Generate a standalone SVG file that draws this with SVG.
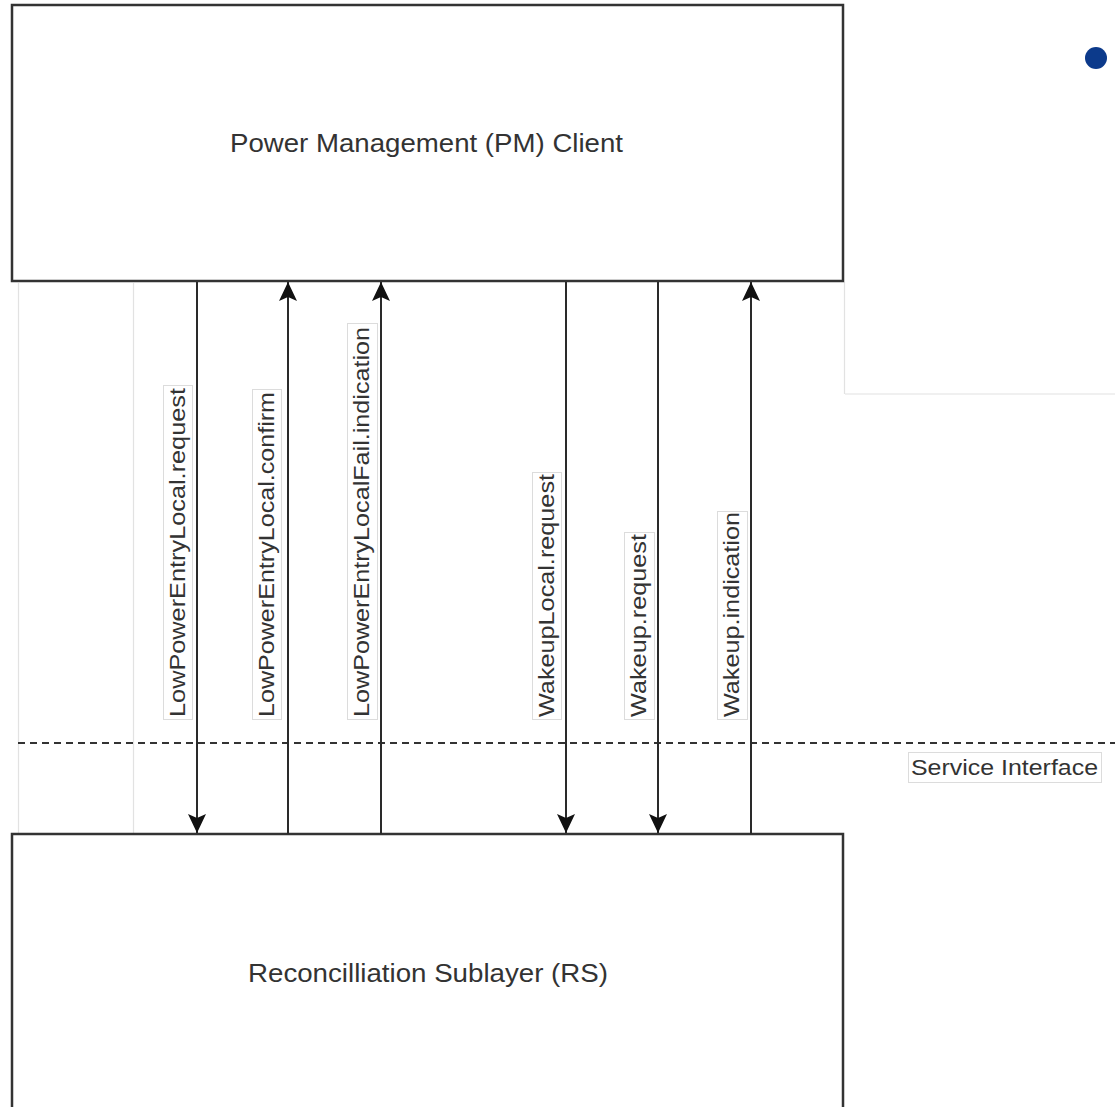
<svg xmlns="http://www.w3.org/2000/svg" width="1115" height="1107" viewBox="0 0 1115 1107">
<style>
.box{fill:#fff;stroke:#333;stroke-width:2.5}
.faint{stroke:#e2e2e2;stroke-width:1.2;fill:none}
.conn{stroke:#2a2a2a;stroke-width:2;fill:none}
.dash{stroke:#333;stroke-width:2;stroke-dasharray:7 5;fill:none}
.lbl{fill:#fff;stroke:#dcdcdc;stroke-width:1}
.t{font-family:"Liberation Sans",Arial,sans-serif;fill:#333}
.big{font-size:26.5px}
.small{font-size:22.5px}
</style>
<defs>
<marker id="ah" viewBox="0 0 20 20" refX="19" refY="10" markerWidth="20" markerHeight="20" markerUnits="userSpaceOnUse" orient="auto">
<path d="M19,10 L0,1 L4,10 L0,19 Z" fill="#111"/>
</marker>
</defs>
<rect width="1115" height="1107" fill="#fff"/>
<g id="background-lines">
<line class="faint" x1="18.5" y1="283" x2="18.5" y2="833"/>
<line class="faint" x1="133.5" y1="283" x2="133.5" y2="833"/>
<line class="faint" x1="844.5" y1="282" x2="844.5" y2="394"/>
<line class="faint" x1="845" y1="394" x2="1115" y2="394"/>
<circle cx="1096" cy="58" r="11" fill="#0c3a8b"/>
</g>
<g id="pm-client">
<rect class="box" x="12" y="5" width="831" height="276"/>
<text class="t big" x="426.5" y="152" text-anchor="middle" textLength="393" lengthAdjust="spacingAndGlyphs">Power Management (PM) Client</text>
</g>
<g id="rs">
<rect class="box" x="12" y="834" width="831" height="290"/>
<text class="t big" x="428" y="982" text-anchor="middle" textLength="360" lengthAdjust="spacingAndGlyphs">Reconcilliation Sublayer (RS)</text>
</g>
<g id="service-interface">
<line class="dash" x1="18" y1="743" x2="1115" y2="743"/>
<rect class="lbl" x="908.5" y="752.5" width="193" height="30"/>
<text class="t small" x="911" y="775" textLength="187" lengthAdjust="spacingAndGlyphs">Service Interface</text>
</g>
<g id="connectors">
<line class="conn" x1="197" y1="282" x2="197" y2="833" marker-end="url(#ah)"/>
<line class="conn" x1="288" y1="834" x2="288" y2="282" marker-end="url(#ah)"/>
<line class="conn" x1="381" y1="834" x2="381" y2="282" marker-end="url(#ah)"/>
<line class="conn" x1="566" y1="282" x2="566" y2="833" marker-end="url(#ah)"/>
<line class="conn" x1="658" y1="282" x2="658" y2="833" marker-end="url(#ah)"/>
<line class="conn" x1="751" y1="834" x2="751" y2="282" marker-end="url(#ah)"/>
</g>
<g id="label-lpe-request">
<rect class="lbl" x="163.5" y="385.5" width="29" height="334"/>
<text class="t small" transform="translate(184.5,717) rotate(-90)" textLength="329" lengthAdjust="spacingAndGlyphs">LowPowerEntryLocal.request</text>
</g>
<g id="label-lpe-confirm">
<rect class="lbl" x="252.5" y="389.5" width="29" height="330"/>
<text class="t small" transform="translate(273.5,717) rotate(-90)" textLength="325" lengthAdjust="spacingAndGlyphs">LowPowerEntryLocal.confirm</text>
</g>
<g id="label-lpe-fail">
<rect class="lbl" x="347.5" y="323.5" width="30" height="396"/>
<text class="t small" transform="translate(368.5,717) rotate(-90)" textLength="390" lengthAdjust="spacingAndGlyphs">LowPowerEntryLocalFail.indication</text>
</g>
<g id="label-wakeuplocal-request">
<rect class="lbl" x="532.5" y="472.5" width="29" height="247"/>
<text class="t small" transform="translate(553.5,717) rotate(-90)" textLength="243" lengthAdjust="spacingAndGlyphs">WakeupLocal.request</text>
</g>
<g id="label-wakeup-request">
<rect class="lbl" x="624.5" y="532.5" width="30" height="187"/>
<text class="t small" transform="translate(645.5,717) rotate(-90)" textLength="183" lengthAdjust="spacingAndGlyphs">Wakeup.request</text>
</g>
<g id="label-wakeup-indication">
<rect class="lbl" x="717.5" y="511.5" width="30" height="208"/>
<text class="t small" transform="translate(738.5,717) rotate(-90)" textLength="205" lengthAdjust="spacingAndGlyphs">Wakeup.indication</text>
</g>
</svg>
